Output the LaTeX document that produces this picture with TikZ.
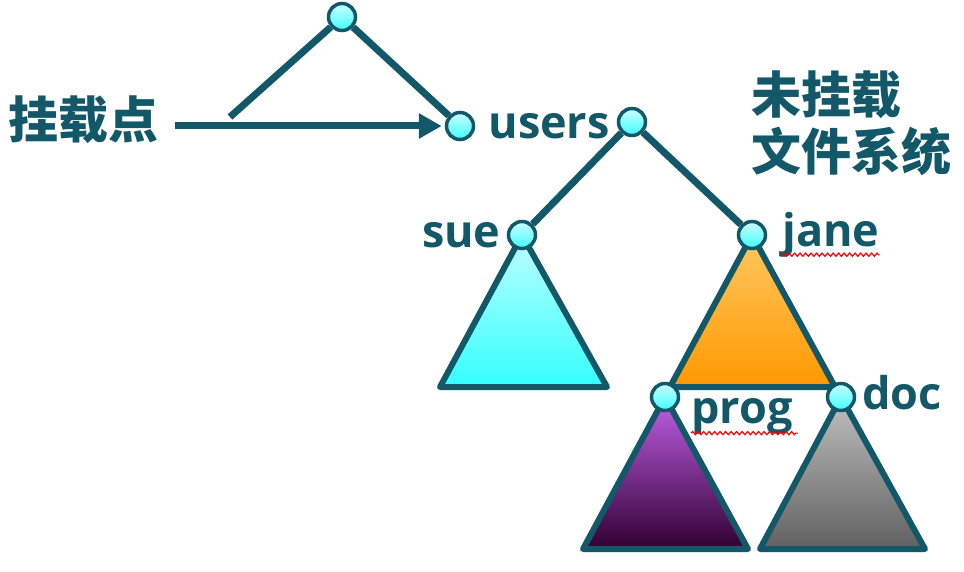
\documentclass[tikz,border=0pt]{standalone}
\usepackage{fontspec}
\setmainfont{Open Sans}
\newfontfamily\cjk{Noto Sans CJK SC}
\usetikzlibrary{positioning,arrows.meta,decorations.pathmorphing}
\definecolor{ink}{RGB}{18,88,104}
\pgfdeclarelayer{bg}
\pgfsetlayers{bg,main}
\tikzset{
	vtx/.style={circle, draw=ink, line width=3.5pt, minimum size=27pt, inner sep=0pt, top color=cyan!20, bottom color=cyan!75},
	branch/.style={draw=ink, line width=7pt},
	subtree/.style={draw=ink, line width=6pt, line join=round},
	lbl/.style={text=ink, font=\fontsize{45}{45}\selectfont\bfseries, inner sep=0pt},
	cn/.style={text=ink, font=\cjk\fontsize{50}{57}\selectfont\bfseries, inner sep=0pt, align=left},
	squiggle/.style={draw=red, line width=1.2pt, decorate, decoration={zigzag, amplitude=1.6pt, segment length=5.5pt}},
}
\begin{document}
\begin{tikzpicture}[x=1pt, y=-1pt]
	\useasboundingbox (0,0) rectangle (964,572);
	\node [vtx] (r) at (342,17) {};
	\node [vtx] (u) at (460,126) {};
	\node [vtx] (h) at (632,122) {};
	\node [vtx] (s) at (522,235) {};
	\node [vtx] (j) at (752,235) {};
	\node [vtx] (p) at (665,397) {};
	\node [vtx] (d) at (841,397) {};
	\coordinate (f) at (230,117);

	\node [cn, anchor=west] (m) at (8,120) {挂载点};
	\node [cn, anchor=west] (n) at (751,123) {未挂载\\文件系统};
    \node [lbl, right=13pt of u] (ul) {users};
    \node [lbl, left=6pt of s] (sl) {sue};
    \node [lbl, right=15pt of j] (jl) {jane};
    \node [lbl, right=11pt of p, yshift=-19pt] (pl) {prog};
    \node [lbl, right=6pt of d, yshift=4pt] (dl) {doc};

	\begin{pgfonlayer}{bg}
	\draw [subtree, top color=cyan!25, bottom color=cyan!80] (s.center) -- (440,387) -- (607,387) -- cycle;
	\draw [subtree, top color={rgb,255:red,255;green,200;blue,96}, bottom color={rgb,255:red,255;green,153;blue,0}] (j.center) -- (670,387) -- (835,387) -- cycle;
	\draw [subtree, top color={rgb,255:red,192;green,96;blue,232}, bottom color={rgb,255:red,48;green,0;blue,48}] (p.center) -- (583,549) -- (748,549) -- cycle;
	\draw [subtree, top color={rgb,255:red,192;green,192;blue,192}, bottom color={rgb,255:red,96;green,96;blue,96}] (d.center) -- (760,549) -- (925,549) -- cycle;
	\end{pgfonlayer}

	\draw [branch] (r) -- (f);
	\draw [branch] (r) -- (u);
	\draw [branch] (h) -- (s);
	\draw [branch] (h) -- (j);
	\draw [branch, -{Triangle[length=23pt, width=24pt]}, shorten >=3pt] (m.east |- u.west) ++(17,0) -- (u.west);

	\draw [squiggle] ([yshift=3pt]jl.south west) -- ([yshift=3pt]jl.south east);
	\draw [squiggle] ([yshift=1pt]pl.south west) -- ([xshift=5pt, yshift=1pt]pl.south east);
\end{tikzpicture}
\end{document}
